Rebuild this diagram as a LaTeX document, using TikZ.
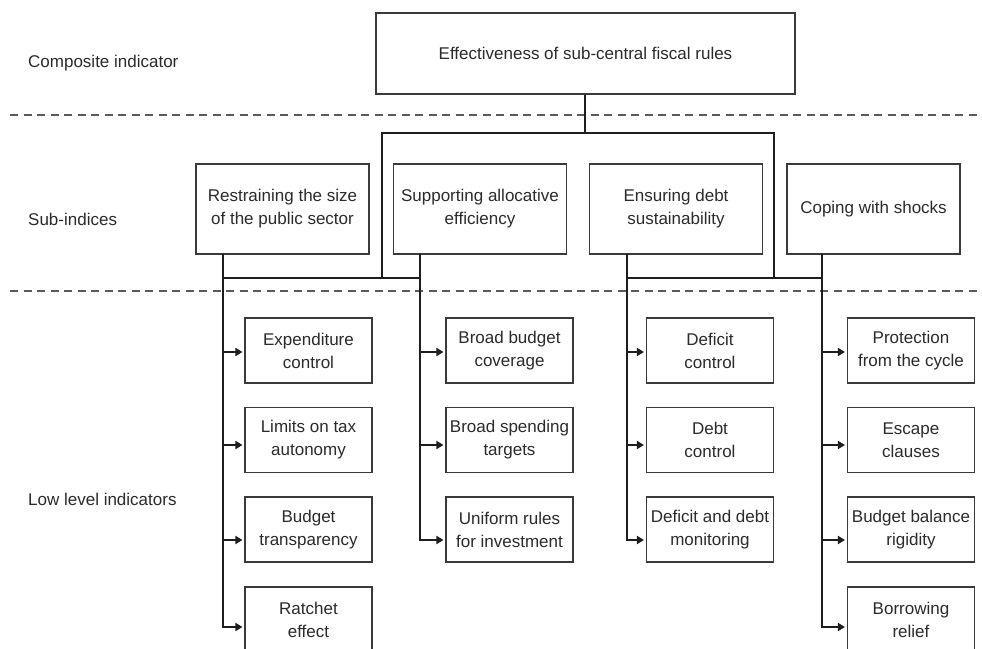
\documentclass[tikz,border=0pt]{standalone}
\usepackage{fontspec}
\setmainfont{Liberation Sans}
\usetikzlibrary{arrows.meta,calc}
\definecolor{txt}{HTML}{2B2B2B}
\definecolor{boxc}{HTML}{3A3A3A}
\definecolor{linec}{HTML}{1E1E1E}
\definecolor{sepc}{HTML}{5A5A5A}
\begin{document}
\begin{tikzpicture}[x=1pt,y=-1pt,
  box/.style={draw=boxc,line width=1.1pt,align=center,inner sep=0pt,text=txt,font=\fontsize{17}{23}\selectfont},
  topbox/.style={box,minimum width=419pt,minimum height=81pt},
  subbox/.style={box,minimum width=173pt,minimum height=90pt},
  lowbox/.style={box,minimum width=127pt,minimum height=65pt},
  lbl/.style={anchor=west,text=txt,inner sep=0pt,font=\fontsize{17}{23}\selectfont},
  conn/.style={line width=1.8pt,draw=linec},
  arr/.style={conn,-{Triangle[length=7pt,width=8pt]},shorten >=2pt},
  sep/.style={draw=sepc,line width=1.3pt,dash pattern=on 8pt off 5.5pt}]
\useasboundingbox (0,0) rectangle (982,648);
\fill[white] (0,0) rectangle (982,648);

% level labels
\node[lbl] (lc) at (28,63) {Composite indicator};
\node[lbl] (ls) at (28,219) {Sub-indices};
\node[lbl] (ll) at (28,499) {Low level indicators};

% separators
\coordinate (d1a) at (10,115);
\coordinate (d1b) at (982,115);
\coordinate (d2a) at (10,291);
\coordinate (d2b) at (982,291);
\draw[sep] (d1a) -- (d1b);
\draw[sep] (d2a) -- (d2b);

% top
\node[topbox] (top) at (585.5,53.5) {Effectiveness of sub-central fiscal rules};

% sub-indices
\node[subbox] (s1) at (282.5,209) {Restraining the size\\of the public sector};
\node[subbox] (s2) at (480,209) {Supporting allocative\\efficiency};
\node[subbox] (s3) at (676,209) {Ensuring debt\\sustainability};
\node[subbox] (s4) at (873.5,209) {Coping with shocks};

% low level
\node[lowbox] (l11) at (308.5,350.5) {Expenditure\\control};
\node[lowbox] (l12) at (308.5,440) {Limits on tax\\autonomy};
\node[lowbox] (l13) at (308.5,529.5) {Budget\\transparency};
\node[lowbox] (l14) at (308.5,619.5) {Ratchet\\effect};

\node[lowbox] (l21) at (509.5,350.5) {Broad budget\\coverage};
\node[lowbox] (l22) at (509.5,440) {Broad spending\\targets};
\node[lowbox] (l23) at (509.5,529.5) {Uniform rules\\for investment};

\node[lowbox] (l31) at (710,350.5) {Deficit\\control};
\node[lowbox] (l32) at (710,440) {Debt\\control};
\node[lowbox] (l33) at (710,529.5) {Deficit and debt\\monitoring};

\node[lowbox] (l41) at (911,350.5) {Protection\\from the cycle};
\node[lowbox] (l42) at (911,440) {Escape\\clauses};
\node[lowbox] (l43) at (911,529.5) {Budget balance\\rigidity};
\node[lowbox] (l44) at (911,619.5) {Borrowing\\relief};

% trunk points
\coordinate (t1) at (223,254);
\coordinate (t2) at (420,254);
\coordinate (t3) at (627,254);
\coordinate (t4) at (822,254);
\coordinate (bl) at (382,278);
\coordinate (br) at (774,278);
\coordinate (bt) at (585,133);

% composite connector / bracket
\draw[conn] (top.south -| bt) -- (bt);
\draw[conn] (bl) -- (bl |- bt) -- (br |- bt) -- (br);
\draw[conn] (t1 |- bl) -- (t2 |- bl);
\draw[conn] (t3 |- br) -- (t4 |- br);

% column 1
\draw[arr] (t1) |- ($(l14.west)+(0,7.5)$);
\draw[arr] (t1 |- l11.west) ++(0,1.5) -- ($(l11.west)+(0,1.5)$);
\draw[arr] (t1 |- l12.west) ++(0,5) -- ($(l12.west)+(0,5)$);
\draw[arr] (t1 |- l13.west) ++(0,10.5) -- ($(l13.west)+(0,10.5)$);

% column 2
\draw[arr] (t2) |- ($(l23.west)+(0,10.5)$);
\draw[arr] (t2 |- l21.west) ++(0,1.5) -- ($(l21.west)+(0,1.5)$);
\draw[arr] (t2 |- l22.west) ++(0,5) -- ($(l22.west)+(0,5)$);

% column 3
\draw[arr] (t3) |- ($(l33.west)+(0,10.5)$);
\draw[arr] (t3 |- l31.west) ++(0,1.5) -- ($(l31.west)+(0,1.5)$);
\draw[arr] (t3 |- l32.west) ++(0,5) -- ($(l32.west)+(0,5)$);

% column 4
\draw[arr] (t4) |- ($(l44.west)+(0,7.5)$);
\draw[arr] (t4 |- l41.west) ++(0,1.5) -- ($(l41.west)+(0,1.5)$);
\draw[arr] (t4 |- l42.west) ++(0,5) -- ($(l42.west)+(0,5)$);
\draw[arr] (t4 |- l43.west) ++(0,10.5) -- ($(l43.west)+(0,10.5)$);
\end{tikzpicture}
\end{document}
